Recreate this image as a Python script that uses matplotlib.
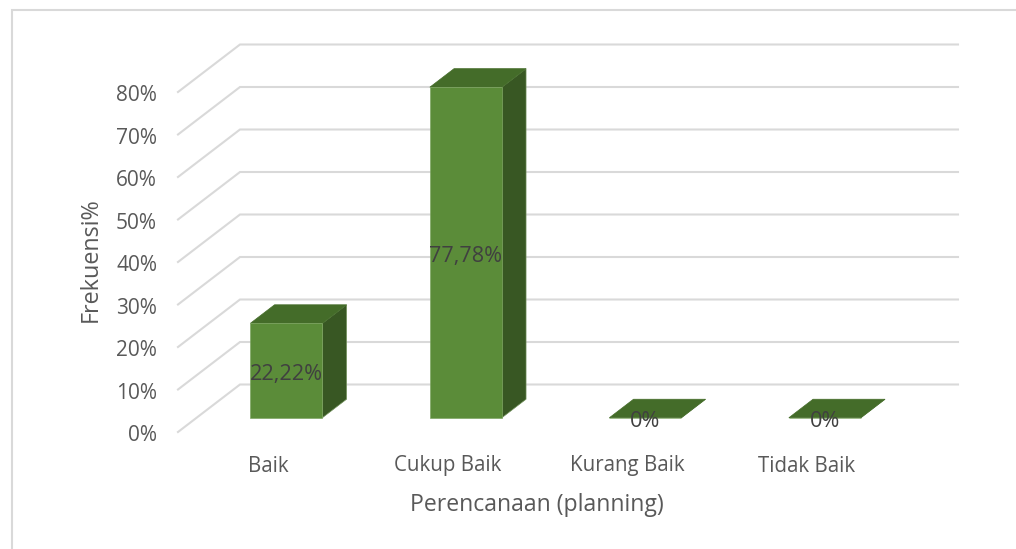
import matplotlib
matplotlib.use('Agg')
import matplotlib.pyplot as plt
from matplotlib.patches import Polygon

plt.rcParams['font.family'] = ['Open Sans', 'DejaVu Sans']

categories = ['Baik', 'Cukup Baik', 'Kurang Baik', 'Tidak Baik']
values = [22.22, 77.78, 0, 0]
value_labels = ['22,22%', '77,78%', '0%', '0%']
ticks = [0, 10, 20, 30, 40, 50, 60, 70, 80]

W, H = 1016, 549
DX, DY = 62 / 179.5, 47.5 / 4.25  # floor depth in data units
bar_w = 72 / 179.5
d0, d1 = 0.30, 0.69  # bar front and back, as fraction of the depth


def proj(x, y, d):
    return (x + d * DX, y + d * DY)


fig = plt.figure(figsize=(W / 100, H / 100), dpi=100)
ax = fig.add_axes([178 / W, 1 - 432 / H, 718 / W, 340 / H])
ax.set_xlim(-0.5, 3.5)
ax.set_ylim(0, 80)
ax.axis('off')

grid = '#d9d9d9'
for t in ticks:
    a = proj(-0.5, t, 0)
    b = proj(-0.5, t, 1)
    c = proj(3.5, t, 1)
    ax.plot([a[0], b[0], c[0]], [a[1], b[1], c[1]], color=grid, lw=1.5,
            clip_on=False, solid_joinstyle='miter', zorder=1)
    # labels sit 21 px left of the wall, a little lower than centred
    ax.annotate('%d%%' % t, (-0.5, t), xytext=(-15.1, -2.8), textcoords='offset points',
                ha='right', va='center', fontsize=15, color='#595959', annotation_clip=False)

for i, v in enumerate(values):
    l = i - bar_w / 2
    r = i + bar_w / 2
    front = [proj(l, 0, d0), proj(r, 0, d0), proj(r, v, d0), proj(l, v, d0)]
    side = [proj(r, 0, d0), proj(r, 0, d1), proj(r, v, d1), proj(r, v, d0)]
    top = [proj(l, v, d0), proj(r, v, d0), proj(r, v, d1), proj(l, v, d1)]
    ax.add_patch(Polygon(side, fc='#385723', ec='#6f8f58', lw=0.5, clip_on=False, zorder=2))
    ax.add_patch(Polygon(top, fc='#446c29', ec='#446c29', lw=0.5, clip_on=False, zorder=2))
    ax.add_patch(Polygon(front, fc='#5b8c39', ec='#7fa663', lw=0.5, clip_on=False, zorder=3))
    ax.annotate(value_labels[i], proj(i, v / 2, d0), xytext=(0, -3), textcoords='offset points',
                ha='center', va='center', fontsize=15.6, color='#404040',
                annotation_clip=False, zorder=4)

for x, c in zip([268, 448, 627, 807], categories):
    fig.text(x / W, 1 - 466 / H, c, ha='center', va='center', fontsize=14.8, color='#595959')

fig.text(537 / W, 1 - 505 / H, 'Perencanaan (planning)', ha='center', va='center',
         fontsize=16.6, color='#595959')
fig.text(91 / W, 1 - 260 / H, 'Frekuensi%', rotation=90, ha='center', va='center',
         fontsize=16.8, color='#595959')

fig.add_artist(plt.Rectangle((12 / W, 1 - 560 / H), 1100 / W, 550 / H, fc='none', ec=grid,
                             lw=1.5, transform=fig.transFigure))

fig.savefig('out.png', dpi=100)
